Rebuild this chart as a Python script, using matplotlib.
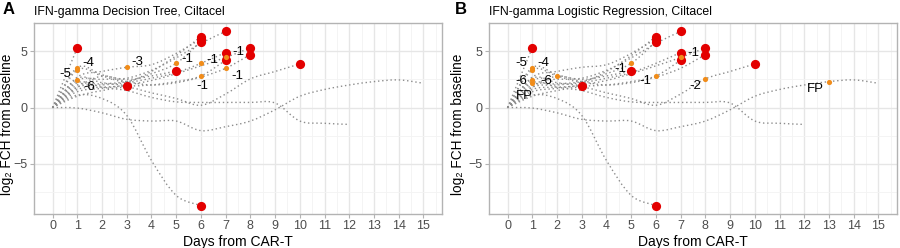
import matplotlib
matplotlib.use("Agg")
import matplotlib.pyplot as plt
from matplotlib.path import Path
from matplotlib.patches import PathPatch
import numpy as np

plt.rcParams['font.family'] = ['Liberation Sans', 'DejaVu Sans']

# log2 FCH per patient, one value per day starting at day 0
trajectories = [
    [0, 5.3],                                                   # 0  event d1
    [0, 2.6, 2.2, 1.95],                                        # 1  event d3
    [0, 3.55, 2.9, 2.5, 2.8, 3.25],                             # 2  event d5
    [0, 3.33, 2.8, 2.3, 3.2, 4.6, 6.3],                         # 3  event d6
    [0, 2.7, 3.2, 3.57, 3.8, 4.8, 6.1],                         # 4  event d6
    [0, 2.0, 2.1, 2.3, 3.0, 3.92, 5.85],                        # 5  event d6
    [0, 2.4, 2.5, 2.6, 3.3, 4.4, 5.7, 6.75],                    # 6  event d7
    [0, 1.8, 2.0, 2.2, 2.6, 3.1, 3.92, 4.88],                   # 7  event d7
    [0, 1.6, 1.8, 1.9, 2.0, 2.3, 2.8, 4.2],                     # 8  event d7
    [0, 1.4, 1.7, 2.0, 2.4, 3.0, 3.7, 4.44, 5.3],               # 9  event d8
    [0, 1.8, 2.78, 2.3, 2.0, 2.2, 2.7, 3.48, 4.7],              # 10 event d8
    [0, 1.0, 1.5, 1.8, 1.3, 0.8, 0.2, 1.2, 2.54, 3.2, 3.87],    # 11 event d10
    [0, 1.1, 0.8, -0.7, -4.7, -7.8, -8.7],                      # 12 event d6
    [0, -0.05, -0.47, -1.05, -1.2, -1.2, -2.05, -1.7, -1.2, -0.2,
     1.0, 1.6, 2.0, 2.3, 2.45, 2.15],                           # 13 no event
    [0, 2.2, 1.8, 1.5, 0.9, 0.5, 0.45, 0.45, 0.45, 0.4, -1.2,
     -1.4, -1.5],                                               # 14 no event
]
has_event = [True] * 13 + [False, False]

# predictions (orange): trajectory, day, label
tree_traj = [2, 3, 6, 4, 5, 7, 8, 9, 10]
tree_day = [1, 1, 1, 3, 5, 6, 6, 7, 7]
tree_lab = ['-4', '-5', '-6', '-3', '-1', '-1', '-1', '-1', '-1']
tree_off = [(0.45, 0.37), (-0.47, -0.35), (0.47, -0.6), (0.43, 0.5), (0.45, 0.35),
            (0.47, 0.28), (0.07, -0.85), (0.5, 0.5), (0.48, -0.68)]

logit_traj = [2, 3, 6, 14, 10, 5, 8, 9, 11, 13]
logit_day = [1, 1, 1, 1, 2, 5, 6, 7, 8, 13]
logit_lab = ['-4', '-5', '-6', 'FP', '-6', '-1', '-1', '-1', '-2', 'FP']
logit_off = [(0.44, 0.37), (-0.43, 0.59), (-0.43, -0.06), (-0.3, -1.2), (-0.42, -0.44),
             (-0.45, -0.53), (-0.44, -0.48), (0.51, 0.41), (-0.42, -0.61), (-0.55, -0.66)]

RED = '#E30000'
ORANGE = '#F08C1A'


def smooth_path(xs, ys):
    pts = np.column_stack([xs, ys]).astype(float)
    if len(pts) == 2:
        return Path(pts, [Path.MOVETO, Path.LINETO])
    verts = [pts[0]]
    codes = [Path.MOVETO]
    n = len(pts)
    for i in range(n - 1):
        p0 = pts[i - 1] if i > 0 else pts[i]
        p1 = pts[i]
        p2 = pts[i + 1]
        p3 = pts[i + 2] if i + 2 < n else pts[i + 1]
        verts += [p1 + (p2 - p0) / 6, p2 - (p3 - p1) / 6, p2]
        codes += [Path.CURVE4] * 3
    return Path(verts, codes)


def panel(ax, title, p_traj, p_day, p_lab, p_off, ylab_x):
    for tr in trajectories:
        days = np.arange(len(tr))
        ax.add_patch(PathPatch(smooth_path(days, tr), fill=False, edgecolor='#8C8C8C',
                               lw=1.0, linestyle=(0, (1, 2)), zorder=2))
    ex = [len(tr) - 1 for tr, e in zip(trajectories, has_event) if e]
    ey = [tr[-1] for tr, e in zip(trajectories, has_event) if e]
    ax.scatter(ex, ey, s=44, color=RED, zorder=3, linewidths=0)
    ox = p_day
    oy = [trajectories[t][d] for t, d in zip(p_traj, p_day)]
    ax.scatter(ox, oy, s=14, color=ORANGE, zorder=4, linewidths=0)
    for x, y, lab, (dx, dy) in zip(ox, oy, p_lab, p_off):
        ax.text(x + dx, y + dy, lab, fontsize=9.5, ha='center', va='center', zorder=5)

    ax.set_xlim(-0.75, 15.75)
    ax.set_ylim(-9.45, 7.5)
    ax.set_xticks(range(0, 16))
    ax.set_xticks(np.arange(0.5, 15.6, 1), minor=True)
    ax.set_yticks([-5, 0, 5])
    ax.set_yticks([-7.5, -2.5, 2.5], minor=True)
    ax.grid(which='major', color='#E6E6E6', lw=1.0)
    ax.grid(which='minor', color='#F3F3F3', lw=0.6)
    ax.set_axisbelow(True)
    for s in ax.spines.values():
        s.set_color('#B3B3B3')
        s.set_linewidth(1.0)
    ax.tick_params(which='major', length=3, color='#B3B3B3', labelsize=9,
                   labelcolor='#4D4D4D', pad=1.5)
    ax.tick_params(which='minor', length=0)
    ax.set_xlabel('Days from CAR-T', fontsize=10, labelpad=2)
    ax.set_ylabel('log\u2082 FCH from baseline', fontsize=9.8)
    ax.yaxis.set_label_coords(ylab_x, 0.47)
    ax.set_title(title, fontsize=8.8, loc='left', pad=6, x=0.0)


fig = plt.figure(figsize=(9, 2.48), dpi=100)
axA = fig.add_axes([34 / 900, 34 / 248, 408 / 900, 191 / 248])
axB = fig.add_axes([489 / 900, 34 / 248, 408 / 900, 191 / 248])
panel(axA, 'IFN-gamma Decision Tree, Ciltacel', tree_traj, tree_day, tree_lab, tree_off, -0.05)
panel(axB, 'IFN-gamma Logistic Regression, Ciltacel', logit_traj, logit_day, logit_lab, logit_off, -0.058)
fig.text(3 / 900, 1 - 10 / 248, 'A', fontsize=12, fontweight='bold', va='center')
fig.text(455 / 900, 1 - 10 / 248, 'B', fontsize=12, fontweight='bold', va='center')

fig.savefig('out.png', dpi=100)
